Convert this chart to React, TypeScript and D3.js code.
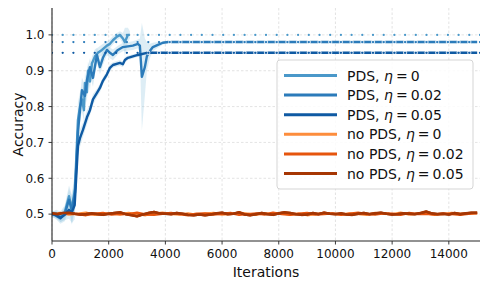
import React from 'react'
import * as d3 from 'd3'

// PDS runs (iterations, mean accuracy, half-width of shaded band)
const pds0Iter = [0, 150, 300, 450, 600, 700, 810, 916, 987, 1057, 1127, 1163, 1233, 1268, 1339, 1409, 1515, 1621, 1762, 1938, 2044, 2150, 2291, 2396, 2502, 2572, 2678, 2748]
const pds0Acc = [0.498, 0.502, 0.492, 0.505, 0.550, 0.515, 0.570, 0.763, 0.800, 0.820, 0.790, 0.866, 0.840, 0.900, 0.870, 0.920, 0.940, 0.950, 0.958, 0.970, 0.975, 0.985, 0.995, 1.000, 0.990, 0.980, 1.000, 1.000]
const pds0Spread = [0.008, 0.01, 0.015, 0.02, 0.03, 0.04, 0.05, 0.05, 0.04, 0.035, 0.03, 0.03, 0.03, 0.025, 0.025, 0.02, 0.02, 0.015, 0.015, 0.012, 0.012, 0.012, 0.01, 0.01, 0.015, 0.04, 0.02, 0.01]

const pds02Iter = [0, 150, 300, 450, 600, 700, 810, 916, 987, 1057, 1163, 1233, 1339, 1445, 1586, 1691, 1797, 1938, 2044, 2150, 2326, 2502, 2854, 3030, 3100, 3171, 3276, 3347, 3453, 3558, 3735, 3911, 4100, 15000]
const pds02Acc = [0.502, 0.495, 0.488, 0.500, 0.540, 0.510, 0.560, 0.730, 0.790, 0.846, 0.830, 0.874, 0.910, 0.880, 0.944, 0.910, 0.936, 0.958, 0.950, 0.944, 0.958, 0.966, 0.970, 0.975, 0.970, 0.883, 0.910, 0.940, 0.955, 0.966, 0.972, 0.978, 0.980, 0.980]
const pds02Spread = [0.008, 0.01, 0.015, 0.02, 0.03, 0.04, 0.05, 0.05, 0.04, 0.035, 0.03, 0.03, 0.025, 0.025, 0.02, 0.02, 0.02, 0.015, 0.015, 0.015, 0.012, 0.012, 0.012, 0.012, 0.02, 0.15, 0.08, 0.04, 0.02, 0.012, 0.008, 0.005, 0.003, 0.003]

const pds05Iter = [0, 150, 300, 450, 600, 700, 800, 916, 987, 1092, 1233, 1339, 1445, 1586, 1691, 1797, 1938, 2044, 2150, 2396, 2500, 2572, 2678, 2854, 3030, 3347, 3600, 15000]
const pds05Acc = [0.500, 0.497, 0.490, 0.498, 0.512, 0.505, 0.525, 0.690, 0.712, 0.735, 0.770, 0.790, 0.820, 0.838, 0.852, 0.872, 0.890, 0.908, 0.916, 0.922, 0.918, 0.930, 0.936, 0.940, 0.944, 0.950, 0.950, 0.950]
const pds05Spread = [0.008, 0.01, 0.012, 0.015, 0.025, 0.03, 0.04, 0.03, 0.025, 0.02, 0.02, 0.015, 0.015, 0.012, 0.012, 0.01, 0.01, 0.01, 0.008, 0.008, 0.008, 0.008, 0.006, 0.006, 0.005, 0.004, 0.003, 0.003]

// no PDS runs, sampled every 300 / 200 iterations
const noPds0Acc = [
  0.500, 0.503, 0.499, 0.501, 0.504, 0.498, 0.500, 0.502, 0.499, 0.503,
  0.500, 0.497, 0.501, 0.504, 0.500, 0.499, 0.502, 0.498, 0.501, 0.503,
  0.499, 0.500, 0.504, 0.501, 0.498, 0.502, 0.500, 0.503, 0.499, 0.501,
  0.497, 0.500, 0.503, 0.501, 0.499, 0.502, 0.500, 0.498, 0.503, 0.501,
  0.500, 0.504, 0.499, 0.501, 0.502, 0.498, 0.500, 0.503, 0.501, 0.502,
  0.503
]
const noPds02Acc = [
  0.501, 0.499, 0.502, 0.500, 0.497, 0.501, 0.503, 0.499, 0.501, 0.500,
  0.504, 0.499, 0.498, 0.501, 0.503, 0.500, 0.497, 0.501, 0.502, 0.499,
  0.501, 0.503, 0.498, 0.500, 0.502, 0.499, 0.504, 0.500, 0.498, 0.501,
  0.503, 0.499, 0.500, 0.502, 0.498, 0.501, 0.504, 0.500, 0.499, 0.502,
  0.501, 0.498, 0.503, 0.500, 0.501, 0.499, 0.502, 0.500, 0.498, 0.501,
  0.502
]
const noPds05Acc = [
  0.502, 0.500, 0.503, 0.504, 0.501, 0.499, 0.500, 0.502, 0.500, 0.498,
  0.501, 0.503, 0.505, 0.500, 0.497, 0.494, 0.499, 0.503, 0.506, 0.502,
  0.501, 0.500, 0.503, 0.501, 0.498, 0.497, 0.499, 0.497, 0.499, 0.502,
  0.504, 0.500, 0.501, 0.505, 0.499, 0.497, 0.500, 0.503, 0.500, 0.498,
  0.502, 0.505, 0.503, 0.500, 0.498, 0.499, 0.503, 0.500, 0.504, 0.501,
  0.500, 0.502, 0.499, 0.498, 0.501, 0.503, 0.500, 0.502, 0.504, 0.501,
  0.499, 0.500, 0.502, 0.501, 0.500, 0.503, 0.507, 0.502, 0.500, 0.501,
  0.499, 0.503, 0.500, 0.502, 0.504, 0.504
]

const refLevels = [1.0, 0.98, 0.95]
const xTicks = [0, 2000, 4000, 6000, 8000, 10000, 12000, 14000]
const yTicks = [0.5, 0.6, 0.7, 0.8, 0.9, 1.0]
const legendNames = ['PDS', 'PDS', 'PDS', 'no PDS', 'no PDS', 'no PDS']
const legendEta = ['0', '0.02', '0.05', '0', '0.02', '0.05']

const blues = ['#4a98c9', '#2b7bba', '#0f5aa3']
const oranges = ['#fd8d3c', '#e6550d', '#a63603']

type Pt = { it: number, v: number, s: number }

function zipPds (its: number[], acc: number[], spread: number[]): Pt[] {
  return its.map((it, i) => ({ it, v: acc[i], s: spread[i] }))
}
function zipNoPds (acc: number[], step: number): Pt[] {
  return acc.map((v, i) => ({ it: i * step, v, s: 0 }))
}

export default function App () {
  const W = 489
  const H = 286
  const left = 52
  const right = 480
  const top = 8
  const bottom = 241
  const font = 'DejaVu Sans, sans-serif'

  const x = d3.scaleLinear().domain([0, 15100]).range([left, right])
  const y = d3.scaleLinear().domain([0.425, 1.075]).range([bottom, top])

  const pds = [
    zipPds(pds0Iter, pds0Acc, pds0Spread),
    zipPds(pds02Iter, pds02Acc, pds02Spread),
    zipPds(pds05Iter, pds05Acc, pds05Spread)
  ]
  const noPds = [
    zipNoPds(noPds0Acc, 300),
    zipNoPds(noPds02Acc, 300),
    zipNoPds(noPds05Acc, 200)
  ]
  // where each run settles on its plateau (halo behind the dots from there on)
  const plateauStart = [pds0Iter[pds0Iter.length - 1], pds02Iter[pds02Iter.length - 2], pds05Iter[pds05Iter.length - 3]]

  const line = d3.line<Pt>().x(d => x(d.it)).y(d => y(d.v))
  const area = d3.area<Pt>().x(d => x(d.it)).y0(d => y(d.v - d.s)).y1(d => y(d.v + d.s))

  const legendX = 277
  const legendY = 60
  const rowH = 19.6

  return (
    <svg width={W} height={H} style={{ position: 'absolute', left: 0, top: 0 }} fontFamily={font}>
      <defs>
        <clipPath id='plot'>
          <rect x={left} y={top} width={right - left} height={bottom - top} />
        </clipPath>
        {plateauStart.map((p, i) => (
          <clipPath key={'pc' + i} id={'plateau' + i}>
            <rect x={x(p)} y={top} width={right - x(p)} height={bottom - top} />
          </clipPath>
        ))}
      </defs>

      {/* grid */}
      {xTicks.map(t => (
        <line key={'gx' + t} x1={x(t)} x2={x(t)} y1={top} y2={bottom} stroke='#dcdcdc' strokeWidth={0.8} strokeDasharray='2.5 2' />
      ))}
      {yTicks.map(t => (
        <line key={'gy' + t} x1={left} x2={right} y1={y(t)} y2={y(t)} stroke='#dcdcdc' strokeWidth={0.8} strokeDasharray='2.5 2' />
      ))}

      <g clipPath='url(#plot)'>
        {/* shaded bands */}
        {pds.map((d, i) => (
          <path key={'band' + i} d={area(d) || ''} fill='#9ecae1' fillOpacity={0.35} stroke='none' />
        ))}
        {noPds.map((d, i) => (
          <path key={'no' + i} d={line(d) || ''} fill='none' stroke={oranges[i]} strokeWidth={2.4} strokeLinejoin='round' />
        ))}
        {pds.map((d, i) => (
          <path key={'pds' + i} d={line(d) || ''} fill='none' stroke={blues[i]} strokeWidth={2.4} strokeLinejoin='round' />
        ))}
        {/* halos on plateau, then the dotted reference levels */}
        {refLevels.map((v, i) => (
          <g key={'halo' + i} clipPath={`url(#plateau${i})`}>
            <line x1={x(0)} x2={x(15100)} y1={y(v)} y2={y(v)} stroke='#fff' strokeOpacity={0.75} strokeWidth={4.4} strokeLinecap='round' strokeDasharray='0 10.7' />
          </g>
        ))}
        {refLevels.map((v, i) => (
          <line key={'ref' + i} x1={x(0)} x2={x(15100)} y1={y(v)} y2={y(v)} stroke={blues[i]} strokeWidth={2.3} strokeLinecap='round' strokeDasharray='0 10.7' />
        ))}
        {/* orange mean drawn on top */}
        <path d={line(noPds[2]) || ''} fill='none' stroke={oranges[2]} strokeWidth={2.6} strokeLinejoin='round' />
      </g>

      {/* spines */}
      <line x1={left} x2={left} y1={top} y2={bottom} stroke='#262626' strokeWidth={1.1} />
      <line x1={left} x2={right} y1={bottom} y2={bottom} stroke='#262626' strokeWidth={1.1} />

      {/* x axis */}
      {xTicks.map(t => (
        <g key={'xt' + t}>
          <line x1={x(t)} x2={x(t)} y1={bottom} y2={bottom + 3.5} stroke='#262626' strokeWidth={0.9} />
          <text x={x(t)} y={bottom + 16.5} textAnchor='middle' fontSize={12} fill='#111'>{t}</text>
        </g>
      ))}
      <text x={(left + right) / 2} y={277} textAnchor='middle' fontSize={14} fill='#111'>Iterations</text>

      {/* y axis */}
      {yTicks.map(t => (
        <g key={'yt' + t}>
          <line x1={left - 3.5} x2={left} y1={y(t)} y2={y(t)} stroke='#262626' strokeWidth={0.9} />
          <text x={44.5} y={y(t) + 4.3} textAnchor='end' fontSize={12} fill='#111'>{t.toFixed(1)}</text>
        </g>
      ))}
      <text transform={`translate(23,${(top + bottom) / 2}) rotate(-90)`} textAnchor='middle' fontSize={14} fill='#111'>Accuracy</text>

      {/* legend */}
      <rect x={legendX} y={legendY} width={196} height={129} rx={3} fill='#fff' fillOpacity={0.85} stroke='#d0d0d0' strokeWidth={0.9} />
      {legendNames.map((name, i) => {
        const cy = legendY + 15.5 + i * rowH
        const color = i < 3 ? blues[i] : oranges[i - 3]
        return (
          <g key={'lg' + i}>
            <line x1={284} x2={337} y1={cy} y2={cy} stroke={color} strokeWidth={3} />
            <text x={347} y={cy + 5} fontSize={14} fill='#111'>
              {name + ', '}
              <tspan fontStyle='italic'>η</tspan>
              <tspan dx={3}>=</tspan>
              <tspan dx={3}>{legendEta[i]}</tspan>
            </text>
          </g>
        )
      })}
    </svg>
  )
}
